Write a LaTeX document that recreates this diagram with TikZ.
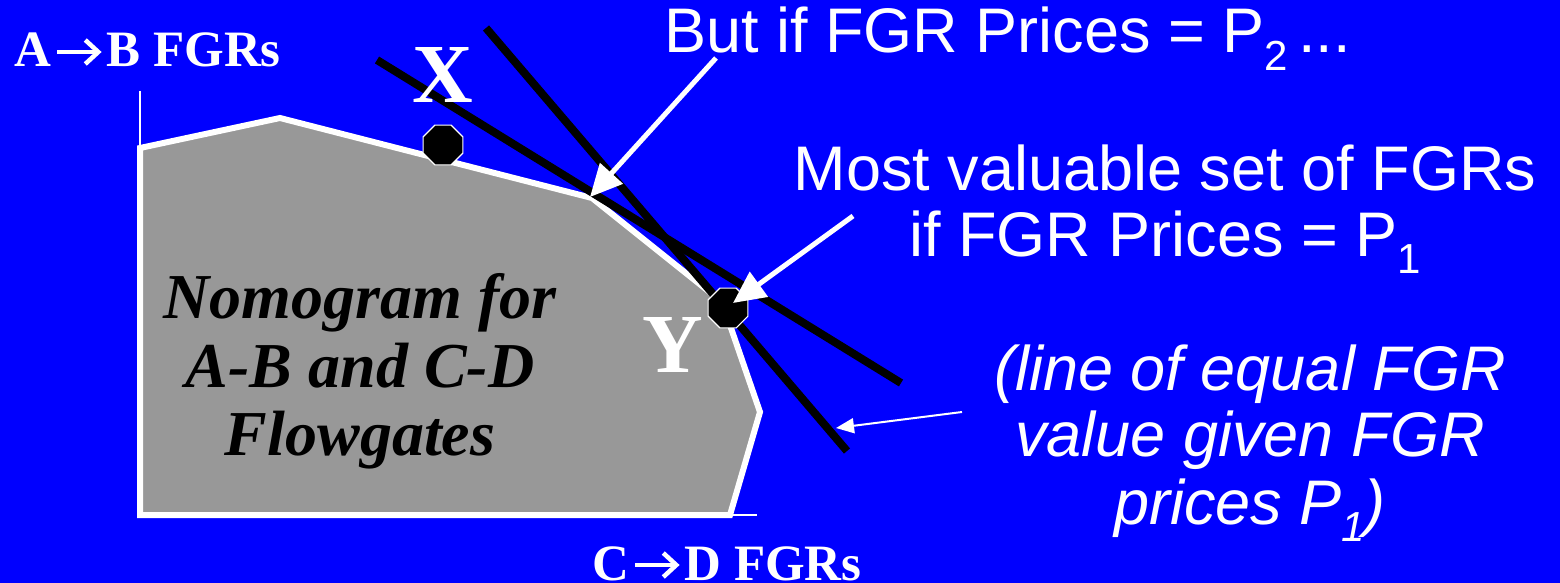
\documentclass[tikz,border=0pt]{standalone}
\usepackage{fontspec}
\setmainfont{Liberation Serif}
\newfontfamily\arialf{Liberation Sans}
\usetikzlibrary{arrows.meta,shapes.geometric}
\definecolor{bg}{RGB}{0,0,255}
\definecolor{nomo}{RGB}{152,152,152}
\tikzset{
  axislabel/.style={text=white, inner sep=0pt, font=\fontsize{51}{51}\selectfont\bfseries},
  pointlabel/.style={text=white, inner sep=0pt, font=\fontsize{84}{84}\selectfont\bfseries},
  nomotext/.style={text=black, inner sep=0pt, font=\fontsize{64}{64}\selectfont\bfseries\itshape},
  sanstext/.style={text=white, inner sep=0pt, font=\fontsize{63}{63}\selectfont\arialf},
  sansital/.style={text=white, inner sep=0pt, font=\fontsize{63}{63}\selectfont\arialf\itshape},
  valueline/.style={black, line width=8pt},
  octpt/.style={regular polygon, regular polygon sides=8, minimum size=43pt, inner sep=0pt, fill=black, draw=white, line width=1.2pt},
  bigarrow/.style={white, line width=5pt, -{Triangle[length=32pt,width=30pt]}},
  thinarrow/.style={white, line width=2pt, -{Triangle[length=18pt,width=15pt]}},
  axisline/.style={white, line width=2pt},
}
\newcommand{\subs}[1]{\raisebox{-0.28em}{\fontsize{42}{42}\selectfont #1}}
\newcommand{\fgrarrow}{\kern4pt\tikz[baseline=0pt, x=1pt, y=1pt]{\draw[white, line width=4.5pt, line cap=butt, line join=miter] (0,15) -- (40,15); \draw[white, line width=4.5pt, line join=miter, line cap=butt] (28,27) -- (41,15) -- (28,3);}\kern6pt}
\begin{document}
\begin{tikzpicture}[x=1pt,y=-1pt]
\fill[bg] (0,0) rectangle (1560,583);
\useasboundingbox (0,0) rectangle (1560,583);

% axes
\coordinate (ax1) at (140,91);
\coordinate (ax0) at (140,148);
\coordinate (bx0) at (730,515);
\coordinate (bx1) at (757,515);
\draw[axisline] (ax1) -- (ax0);
\draw[axisline] (bx0) -- (bx1);

% nomogram
\draw[white, line width=6pt, fill=nomo, line join=miter]
  (140,148) -- (280,118) -- (592,198) -- (722,302) -- (760,412) -- (730,515) -- (140,515) -- cycle;

% value lines
\coordinate (l1a) at (377,60);
\coordinate (l1b) at (901,383);
\coordinate (l2a) at (486,28);
\coordinate (l2b) at (847,451);
\draw[valueline] (l1a) -- (l1b);
\draw[valueline] (l2a) -- (l2b);

% points
\node[octpt] (X) at (443,145) {};
\node[octpt] (Ypt) at (728,308) {};

% labels
\node[axislabel, anchor=base west] (ab) at (14,67) {A\fgrarrow B FGRs};
\node[axislabel, anchor=base west] (cd) at (592,580) {C\fgrarrow D FGRs};
\node[pointlabel, anchor=base] (xl) at (443,103) {X};
\node[pointlabel, anchor=base] (yl) at (673,372) {Y};

\node[nomotext, anchor=base] (n1) at (360,318) {Nomogram for};
\node[nomotext, anchor=base] (n2) at (360,387) {A-B and C-D};
\node[nomotext, anchor=base] (n3) at (360,455) {Flowgates};

\node[sanstext, anchor=base west] (t1) at (664,53) {But if FGR Prices = P\subs{2}\,...};
\node[sanstext, anchor=base] (t2) at (1165,190) {Most valuable set of FGRs};
\node[sanstext, anchor=base] (t3) at (1165,256) {if FGR Prices = P\subs{1}};

\node[sansital, anchor=base] (t4) at (1250,390) {(line of equal FGR};
\node[sansital, anchor=base] (t5) at (1250,456) {value given FGR};
\node[sansital, anchor=base] (t6) at (1250,524) {prices P\subs{1})};

% arrows
\coordinate (a1s) at (716,58);
\coordinate (a1e) at (590,197);
\coordinate (a2s) at (853,216);
\coordinate (a2e) at (733,303);
\coordinate (a3s) at (962,412);
\coordinate (a3e) at (836,428);
\draw[bigarrow] (a1s) -- (a1e);
\draw[bigarrow] (a2s) -- (a2e);
\draw[thinarrow] (a3s) -- (a3e);
\end{tikzpicture}
\end{document}
